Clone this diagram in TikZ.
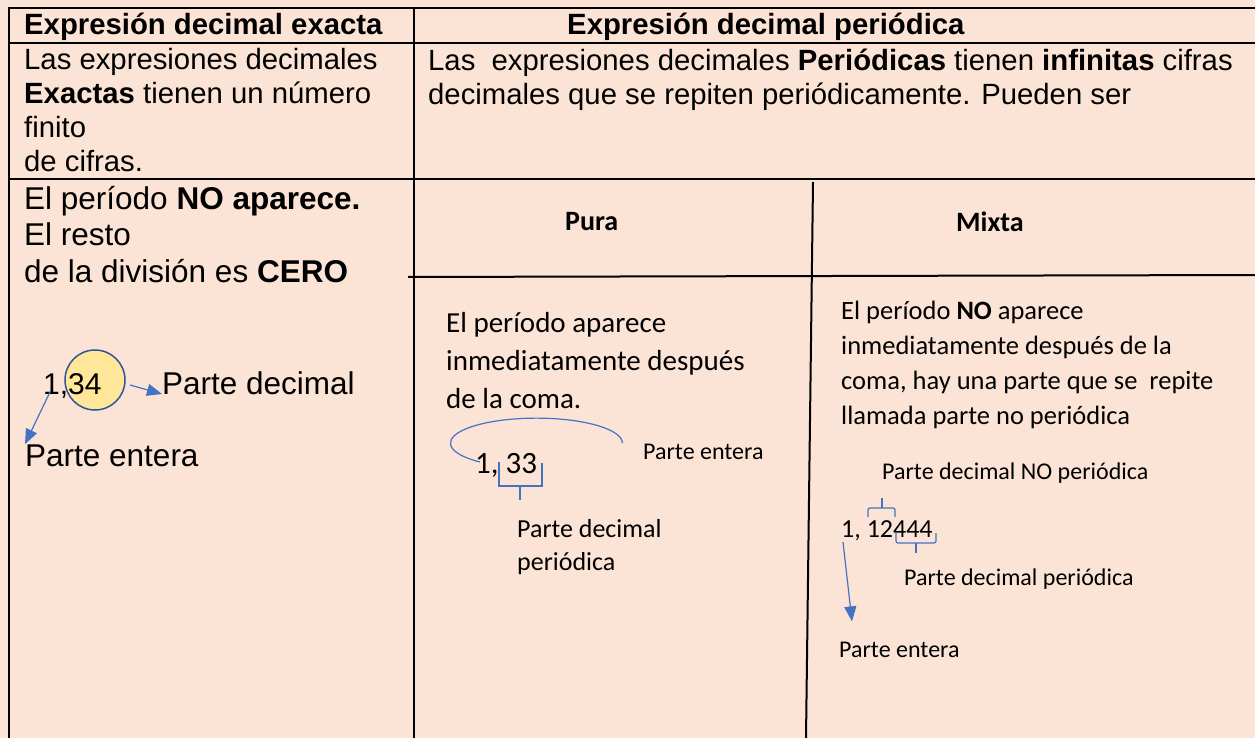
\documentclass[tikz,border=0pt]{standalone}
\usepackage{fontspec}
\setmainfont{Liberation Sans}
\newfontfamily\calibri{Carlito}
\usetikzlibrary{arrows.meta}
\definecolor{peach}{HTML}{FBE4D5}
\definecolor{linkblue}{HTML}{4472C4}
\definecolor{ringblue}{HTML}{2F5597}
\definecolor{ringfill}{HTML}{FFE699}
\tikzset{
  txt/.style={anchor=base west, inner sep=0pt, align=left},
  celltxt/.style={txt, font=\fontsize{29.3}{34}\selectfont},
  resttxt/.style={txt, font=\fontsize{31.5}{36.5}\selectfont},
  headtxt/.style={txt, font=\calibri\bfseries\fontsize{28}{34}\selectfont},
  puratxt/.style={txt, font=\calibri\fontsize{29}{38}\selectfont},
  mixtxt/.style={txt, font=\calibri\fontsize{26.5}{35}\selectfont},
  parttxt/.style={txt, font=\calibri\fontsize{26}{33}\selectfont},
  smalltxt/.style={txt, font=\calibri\fontsize{24}{29}\selectfont},
  grid/.style={line width=2pt},
  link/.style={linkblue, line width=1.2pt},
  arr/.style={link, -{Triangle[length=15pt,width=12pt]}}
}

\begin{document}
\begin{tikzpicture}[x=1pt, y=-1pt]
    \fill[peach] (0,0) rectangle (1255,738);
    \useasboundingbox (0,0) rectangle (1255,738);
    % table
    \draw[grid] (8,8) -- (1255,8);
    \draw[grid] (8,43) -- (1255,43);
    \draw[grid] (8,179) -- (1255,179);
    \draw[grid] (408,277) -- (1255,275);
    \draw[grid] (8.5,8) -- (8.5,738);
    \draw[grid] (414,8) -- (414,738);
    \draw[grid] (813,182) -- (806,738);
    % headings (multi-line nodes sit on their last line)
    \node[celltxt] (hexa) at (24,35){\textbf{Expresión decimal exacta}};
    \node[celltxt] (hper) at (567,35){\textbf{Expresión decimal periódica}};
    \node[celltxt] (exa) at (24,172){Las expresiones decimales\\\textbf{Exactas} tienen un número\\finito\\de cifras.};
    \node[celltxt] (per) at (428,105){Las\ \ expresiones decimales \textbf{Periódicas} tienen \textbf{infinitas} cifras\\decimales que se repiten periódicamente. Pueden ser};
    \node[resttxt] (resto) at (24,282){El período \textbf{NO aparece.}\\El resto\\de la división es \textbf{CERO}};
    \node[headtxt] (pura) at (565,230){Pura};
    \node[headtxt] (mixta) at (956,232){Mixta};
    % exacta
    \filldraw[fill=ringfill, draw=ringblue, line width=1.5pt] (95,380) circle[radius=30];
    \node[txt, font=\fontsize{30}{34}\selectfont] (n34) at (43,394){1,34};
    \node[resttxt] (decA) at (162,394){Parte decimal};
    \node[resttxt] (entA) at (25,466){Parte entera};
    \coordinate (c34a) at (130,385);
    \coordinate (c34b) at (50,392);
    \draw[arr] (c34a) -- (decA.base west);
    \draw[arr] (c34b) -- (entA.north west);
    % pura
    \node[puratxt] (ptxt) at (446,408){El período aparece\\inmediatamente después\\de la coma.};
    \node[txt, font=\calibri\fontsize{31}{36}\selectfont] (n33) at (475,473){1, 33};
    \draw[link] (480,462) arc[start angle=131, end angle=360, x radius=86, y radius=25];
    \draw[link] (499,462) -- (499,486) -- (542,486) -- (542,463);
    \draw[link] (520,486) -- (520,500);
    \node[smalltxt] (entP) at (643,459){Parte entera};
    \node[parttxt] (decP) at (517,570){Parte decimal\\periódica};
    % mixta
    \node[mixtxt] (mtxt) at (841,424){El período \textbf{NO} aparece\\inmediatamente después de la\\coma, hay una parte que se\ \ repite\\llamada parte no periódica};
    \node[smalltxt] (decNo) at (882,479){Parte decimal NO periódica};
    \node[parttxt] (n12) at (841,537){1, 12444};
    \draw[link, rounded corners=2pt] (868,517) -- (868,508) -- (895,508) -- (895,517);
    \draw[link] (882,508) -- (882,498);
    \draw[link, rounded corners=2pt] (896,533) -- (896,543) -- (936,543) -- (936,533);
    \draw[link] (916,543) -- (916,553);
    \node[smalltxt] (decPer) at (904,585){Parte decimal periódica};
    \node[smalltxt] (entM) at (839,657){Parte entera};
    \coordinate (c12) at (843,542);
    \draw[arr] (c12) -- ([xshift=13pt, yshift=20pt]entM.north west);
\end{tikzpicture}
\end{document}
